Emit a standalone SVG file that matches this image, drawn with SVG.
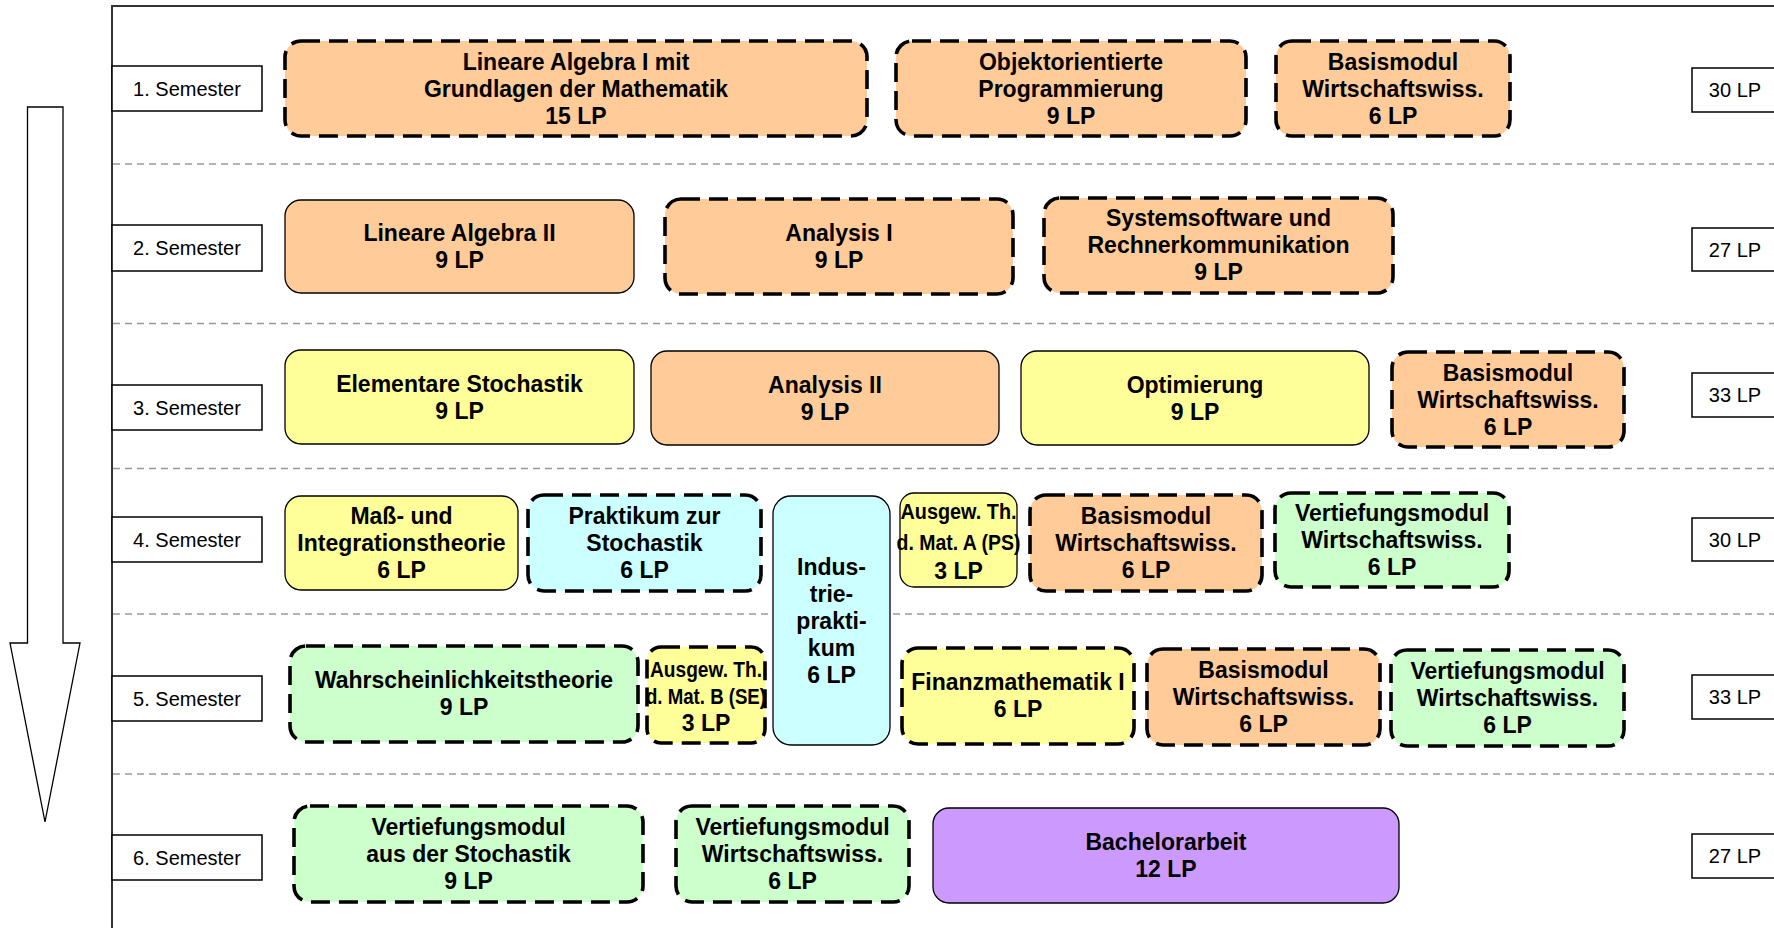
<svg xmlns="http://www.w3.org/2000/svg" width="1774" height="928" viewBox="0 0 1774 928">
<style>
.bg{fill:#ffffff}
.frame{fill:none;stroke:#333333;stroke-width:2}
.sep{stroke:#999999;stroke-width:1.6;stroke-dasharray:7 5}
.sem{fill:#ffffff;stroke:#000000;stroke-width:1.5}
.semt{font-family:"Liberation Sans",Arial,sans-serif;font-size:20px;fill:#000;text-anchor:middle}
.solid{stroke:#000000;stroke-width:1.3}
.dash{stroke:#000000;stroke-width:3.6;stroke-dasharray:19 9}
.o{fill:#FFCC99}.y{fill:#FFFF99}.c{fill:#CCFFFF}.g{fill:#CCFFCC}.p{fill:#CC99FF}
.t{font-family:"Liberation Sans",Arial,sans-serif;font-size:23px;font-weight:bold;fill:#000;text-anchor:middle}
.ts{font-family:"Liberation Sans",Arial,sans-serif;font-size:22px;font-weight:bold;fill:#000;text-anchor:middle}
.arrow{fill:#ffffff;stroke:#000000;stroke-width:1.3}
</style>
<rect class="bg" x="0" y="0" width="1774" height="928"/>
<g id="frame">
<rect class="frame" x="112" y="6" width="1700" height="960"/>
<line class="sep" x1="113" y1="164" x2="1774" y2="164"/>
<line class="sep" x1="113" y1="323.5" x2="1774" y2="323.5"/>
<line class="sep" x1="113" y1="468.5" x2="1774" y2="468.5"/>
<line class="sep" x1="113" y1="614" x2="1774" y2="614"/>
<line class="sep" x1="113" y1="774" x2="1774" y2="774"/>
</g>
<g id="connectors">
<polygon id="time-arrow" class="arrow" points="27.5,107 63,107 63,643 80,643 45,822 10,643 27.5,643"/>
</g>
<g id="semesters">
<g id="sem1"><rect class="sem" x="112" y="66" width="150" height="45"/><text class="semt" x="187" y="95.5">1. Semester</text></g>
<g id="sem2"><rect class="sem" x="112" y="225" width="150" height="46"/><text class="semt" x="187" y="255">2. Semester</text></g>
<g id="sem3"><rect class="sem" x="112" y="385" width="150" height="45"/><text class="semt" x="187" y="414.5">3. Semester</text></g>
<g id="sem4"><rect class="sem" x="112" y="517" width="150" height="45"/><text class="semt" x="187" y="546.5">4. Semester</text></g>
<g id="sem5"><rect class="sem" x="112" y="676" width="150" height="45"/><text class="semt" x="187" y="705.5">5. Semester</text></g>
<g id="sem6"><rect class="sem" x="112" y="835" width="150" height="45"/><text class="semt" x="187" y="864.5">6. Semester</text></g>
</g>
<g id="credits">
<g id="lp1"><rect class="sem" x="1692" y="68" width="90" height="44"/><text class="semt" x="1735" y="97">30 LP</text></g>
<g id="lp2"><rect class="sem" x="1692" y="228" width="90" height="43"/><text class="semt" x="1735" y="256.5">27 LP</text></g>
<g id="lp3"><rect class="sem" x="1692" y="373" width="90" height="44"/><text class="semt" x="1735" y="402">33 LP</text></g>
<g id="lp4"><rect class="sem" x="1692" y="518" width="90" height="43"/><text class="semt" x="1735" y="546.5">30 LP</text></g>
<g id="lp5"><rect class="sem" x="1692" y="675" width="90" height="44"/><text class="semt" x="1735" y="704">33 LP</text></g>
<g id="lp6"><rect class="sem" x="1692" y="834" width="90" height="44"/><text class="semt" x="1735" y="863">27 LP</text></g>
</g>
<g id="n1"><rect class="o dash" x="285" y="41" width="582" height="95" rx="16"/><text class="t" x="576" y="69.5">Lineare Algebra I mit</text><text class="t" x="576" y="96.5">Grundlagen der Mathematik</text><text class="t" x="576" y="123.5">15 LP</text></g>
<g id="n2"><rect class="o dash" x="896" y="41" width="350" height="95" rx="16"/><text class="t" x="1071" y="69.5">Objektorientierte</text><text class="t" x="1071" y="96.5">Programmierung</text><text class="t" x="1071" y="123.5">9 LP</text></g>
<g id="n3"><rect class="o dash" x="1276" y="41" width="234" height="95" rx="16"/><text class="t" x="1393" y="69.5">Basismodul</text><text class="t" x="1393" y="96.5">Wirtschaftswiss.</text><text class="t" x="1393" y="123.5">6 LP</text></g>
<g id="n4"><rect class="o solid" x="285" y="200" width="349" height="93" rx="16"/><text class="t" x="459.5" y="241">Lineare Algebra II</text><text class="t" x="459.5" y="268">9 LP</text></g>
<g id="n5"><rect class="o dash" x="665" y="199" width="348" height="95" rx="16"/><text class="t" x="839" y="241">Analysis I</text><text class="t" x="839" y="268">9 LP</text></g>
<g id="n6"><rect class="o dash" x="1044" y="198" width="349" height="95" rx="16"/><text class="t" x="1218.5" y="226">Systemsoftware und</text><text class="t" x="1218.5" y="253">Rechnerkommunikation</text><text class="t" x="1218.5" y="280">9 LP</text></g>
<g id="n7"><rect class="y solid" x="285" y="350" width="349" height="94" rx="16"/><text class="t" x="459.5" y="391.5">Elementare Stochastik</text><text class="t" x="459.5" y="418.5">9 LP</text></g>
<g id="n8"><rect class="o solid" x="651" y="351" width="348" height="94" rx="16"/><text class="t" x="825" y="392.5">Analysis II</text><text class="t" x="825" y="419.5">9 LP</text></g>
<g id="n9"><rect class="y solid" x="1021" y="351" width="348" height="94" rx="16"/><text class="t" x="1195" y="392.5">Optimierung</text><text class="t" x="1195" y="419.5">9 LP</text></g>
<g id="n10"><rect class="o dash" x="1392" y="352" width="232" height="95" rx="16"/><text class="t" x="1508" y="380.5">Basismodul</text><text class="t" x="1508" y="407.5">Wirtschaftswiss.</text><text class="t" x="1508" y="434.5">6 LP</text></g>
<g id="n11"><rect class="y solid" x="285" y="496" width="233" height="94" rx="16"/><text class="t" x="401.5" y="524">Maß- und</text><text class="t" x="401.5" y="551">Integrationstheorie</text><text class="t" x="401.5" y="578">6 LP</text></g>
<g id="n12"><rect class="c dash" x="528" y="495" width="233" height="96" rx="16"/><text class="t" x="644.5" y="524">Praktikum zur</text><text class="t" x="644.5" y="551">Stochastik</text><text class="t" x="644.5" y="578">6 LP</text></g>
<g id="n13"><rect class="c solid" x="773" y="496" width="117" height="249" rx="18"/><text class="t" x="831.5" y="575">Indus-</text><text class="t" x="831.5" y="602">trie-</text><text class="t" x="831.5" y="629">prakti-</text><text class="t" x="831.5" y="656">kum</text><text class="t" x="831.5" y="683">6 LP</text></g>
<g id="n14"><rect class="y solid" x="900" y="493" width="117" height="94" rx="14"/><text class="ts" x="958.5" y="519" textLength="116" lengthAdjust="spacingAndGlyphs">Ausgew. Th.</text><text class="ts" x="958.5" y="550" textLength="124" lengthAdjust="spacingAndGlyphs">d. Mat. A (PS)</text><text class="t" x="958.5" y="579">3 LP</text></g>
<g id="n15"><rect class="o dash" x="1030" y="495" width="232" height="96" rx="16"/><text class="t" x="1146" y="524">Basismodul</text><text class="t" x="1146" y="551">Wirtschaftswiss.</text><text class="t" x="1146" y="578">6 LP</text></g>
<g id="n16"><rect class="g dash" x="1275" y="493" width="234" height="94" rx="16"/><text class="t" x="1392" y="521">Vertiefungsmodul</text><text class="t" x="1392" y="548">Wirtschaftswiss.</text><text class="t" x="1392" y="575">6 LP</text></g>
<g id="n17"><rect class="g dash" x="290" y="646" width="348" height="96" rx="16"/><text class="t" x="464" y="688">Wahrscheinlichkeitstheorie</text><text class="t" x="464" y="715">9 LP</text></g>
<g id="n18"><rect class="y dash" x="647" y="647" width="118" height="96" rx="14"/><text class="ts" x="706" y="677" textLength="112" lengthAdjust="spacingAndGlyphs">Ausgew. Th.</text><text class="ts" x="706" y="704" textLength="120" lengthAdjust="spacingAndGlyphs">d. Mat. B (SE)</text><text class="t" x="706" y="731">3 LP</text></g>
<g id="n19"><rect class="y dash" x="902" y="648" width="232" height="96" rx="16"/><text class="t" x="1018" y="690">Finanzmathematik I</text><text class="t" x="1018" y="717">6 LP</text></g>
<g id="n20"><rect class="o dash" x="1147" y="649" width="233" height="96" rx="16"/><text class="t" x="1263.5" y="678">Basismodul</text><text class="t" x="1263.5" y="705">Wirtschaftswiss.</text><text class="t" x="1263.5" y="732">6 LP</text></g>
<g id="n21"><rect class="g dash" x="1391" y="650" width="233" height="96" rx="16"/><text class="t" x="1507.5" y="679">Vertiefungsmodul</text><text class="t" x="1507.5" y="706">Wirtschaftswiss.</text><text class="t" x="1507.5" y="733">6 LP</text></g>
<g id="n22"><rect class="g dash" x="294" y="806" width="349" height="96" rx="16"/><text class="t" x="468.5" y="835">Vertiefungsmodul</text><text class="t" x="468.5" y="862">aus der Stochastik</text><text class="t" x="468.5" y="889">9 LP</text></g>
<g id="n23"><rect class="g dash" x="676" y="806" width="233" height="96" rx="16"/><text class="t" x="792.5" y="835">Vertiefungsmodul</text><text class="t" x="792.5" y="862">Wirtschaftswiss.</text><text class="t" x="792.5" y="889">6 LP</text></g>
<g id="n24"><rect class="p solid" x="933" y="808" width="466" height="95" rx="16"/><text class="t" x="1166" y="850">Bachelorarbeit</text><text class="t" x="1166" y="877">12 LP</text></g>
</svg>
